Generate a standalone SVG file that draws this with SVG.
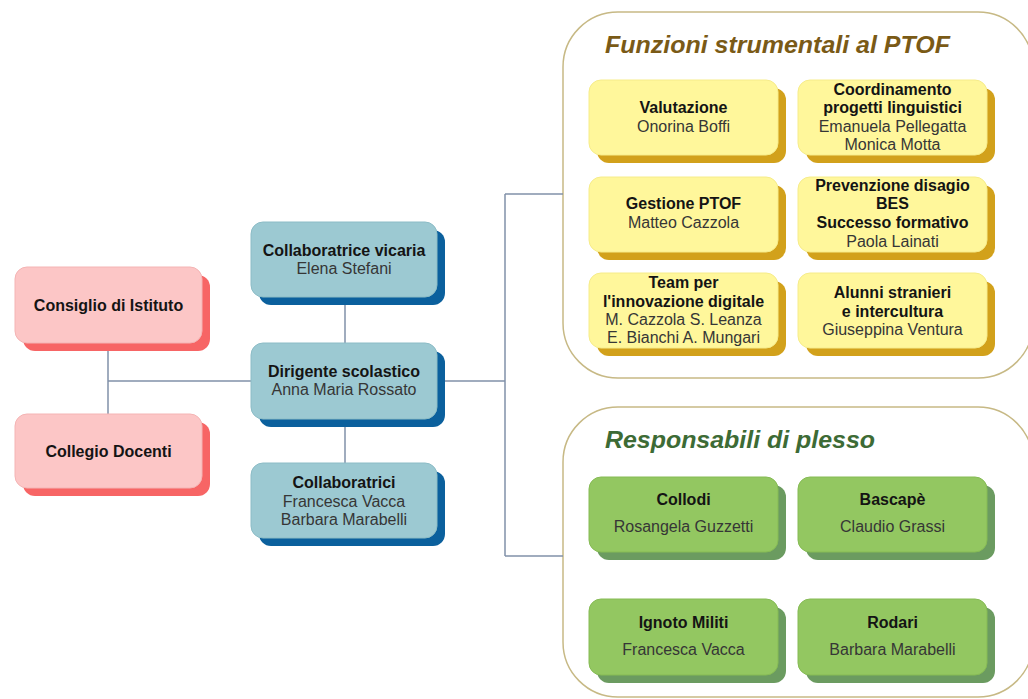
<svg xmlns="http://www.w3.org/2000/svg" width="1028" height="699" viewBox="0 0 1028 699">
<style>
.b{font-family:"Liberation Sans",Arial,sans-serif;font-size:16px;font-weight:bold;fill:#141414;text-anchor:middle}
.r{font-family:"Liberation Sans",Arial,sans-serif;font-size:16px;fill:#363636;text-anchor:middle}
.t{font-family:"Liberation Sans",Arial,sans-serif;font-size:24px;font-weight:bold;font-style:italic}
.conn{stroke:#8191a9;stroke-width:1.5;fill:none}
.cont{fill:#fff;stroke:#c7b985;stroke-width:1.5}
.pk{fill:#fcc6c6;stroke:#f4b4b4}
.pks{fill:#f76565}
.bl{fill:#9cc9d2;stroke:#8cbcc6}
.bls{fill:#0b609d}
.ye{fill:#fff79b;stroke:#f6ec8a}
.yes{fill:#d2a11b}
.gr{fill:#93c761;stroke:#86bb55}
.grs{fill:#6b9b60}
</style>
<rect width="1028" height="699" fill="#fff"/>
<g id="containers">
<rect id="funzioni-box" class="cont" x="563" y="12" width="470" height="366" rx="55"/>
<rect id="plesso-box" class="cont" x="563" y="407" width="470" height="290" rx="55"/>
<text class="t" x="605" y="53" fill="#7a5a16" textLength="345" lengthAdjust="spacingAndGlyphs">Funzioni strumentali al PTOF</text>
<text class="t" x="605" y="448" fill="#3d6b35" textLength="270" lengthAdjust="spacingAndGlyphs">Responsabili di plesso</text>
</g>
<g id="connectors">
<path class="conn" d="M108 343V414M108 381H251M345 297V343M345 419V463M437 381H505M505 194V556M505 194H563M505 556H563"/>
</g>
<g id="consiglio">
<rect class="pks" x="23" y="275" width="187" height="76" rx="12"/>
<rect class="pk" x="15" y="267" width="187" height="76" rx="12"/>
<text class="b" x="108.5" y="311">Consiglio di Istituto</text>
</g>
<g id="collegio">
<rect class="pks" x="23" y="422" width="187" height="74" rx="12"/>
<rect class="pk" x="15" y="414" width="187" height="74" rx="12"/>
<text class="b" x="108.5" y="457">Collegio Docenti</text>
</g>
<g id="vicaria">
<rect class="bls" x="259" y="230" width="186" height="75" rx="12"/>
<rect class="bl" x="251" y="222" width="186" height="75" rx="12"/>
<text class="b" x="344" y="256">Collaboratrice vicaria</text>
<text class="r" x="344" y="274">Elena Stefani</text>
</g>
<g id="dirigente">
<rect class="bls" x="259" y="351" width="186" height="76" rx="12"/>
<rect class="bl" x="251" y="343" width="186" height="76" rx="12"/>
<text class="b" x="344" y="377">Dirigente scolastico</text>
<text class="r" x="344" y="395">Anna Maria Rossato</text>
</g>
<g id="collaboratrici">
<rect class="bls" x="259" y="471" width="186" height="75" rx="12"/>
<rect class="bl" x="251" y="463" width="186" height="75" rx="12"/>
<text class="b" x="344" y="488">Collaboratrici</text>
<text class="r" x="344" y="507">Francesca Vacca</text>
<text class="r" x="344" y="525">Barbara Marabelli</text>
</g>
<g id="valutazione">
<rect class="yes" x="597" y="88" width="189" height="75" rx="12"/>
<rect class="ye" x="589" y="80" width="189" height="75" rx="12"/>
<text class="b" x="683.5" y="113">Valutazione</text>
<text class="r" x="683.5" y="132">Onorina Boffi</text>
</g>
<g id="coordinamento">
<rect class="yes" x="806" y="88" width="189" height="75" rx="12"/>
<rect class="ye" x="798" y="80" width="189" height="75" rx="12"/>
<text class="b" x="892.5" y="95">Coordinamento</text>
<text class="b" x="892.5" y="113">progetti linguistici</text>
<text class="r" x="892.5" y="132">Emanuela Pellegatta</text>
<text class="r" x="892.5" y="150">Monica Motta</text>
</g>
<g id="gestione">
<rect class="yes" x="597" y="185" width="189" height="75" rx="12"/>
<rect class="ye" x="589" y="177" width="189" height="75" rx="12"/>
<text class="b" x="683.5" y="209">Gestione PTOF</text>
<text class="r" x="683.5" y="228">Matteo Cazzola</text>
</g>
<g id="prevenzione">
<rect class="yes" x="806" y="185" width="189" height="75" rx="12"/>
<rect class="ye" x="798" y="177" width="189" height="75" rx="12"/>
<text class="b" x="892.5" y="191">Prevenzione disagio</text>
<text class="b" x="892.5" y="209">BES</text>
<text class="b" x="892.5" y="228">Successo formativo</text>
<text class="r" x="892.5" y="247">Paola Lainati</text>
</g>
<g id="team">
<rect class="yes" x="597" y="281" width="189" height="75" rx="12"/>
<rect class="ye" x="589" y="273" width="189" height="75" rx="12"/>
<text class="b" x="683.5" y="288">Team per</text>
<text class="b" x="683.5" y="307">l'innovazione digitale</text>
<text class="r" x="683.5" y="325">M. Cazzola S. Leanza</text>
<text class="r" x="683.5" y="343">E. Bianchi A. Mungari</text>
</g>
<g id="alunni">
<rect class="yes" x="806" y="281" width="189" height="75" rx="12"/>
<rect class="ye" x="798" y="273" width="189" height="75" rx="12"/>
<text class="b" x="892.5" y="298">Alunni stranieri</text>
<text class="b" x="892.5" y="317">e intercultura</text>
<text class="r" x="892.5" y="335">Giuseppina Ventura</text>
</g>
<g id="collodi">
<rect class="grs" x="597" y="485" width="189" height="75" rx="12"/>
<rect class="gr" x="589" y="477" width="189" height="75" rx="12"/>
<text class="b" x="683.5" y="505">Collodi</text>
<text class="r" x="683.5" y="532">Rosangela Guzzetti</text>
</g>
<g id="bascape">
<rect class="grs" x="806" y="485" width="189" height="75" rx="12"/>
<rect class="gr" x="798" y="477" width="189" height="75" rx="12"/>
<text class="b" x="892.5" y="505">Bascapè</text>
<text class="r" x="892.5" y="532">Claudio Grassi</text>
</g>
<g id="ignoto">
<rect class="grs" x="597" y="607" width="189" height="76" rx="12"/>
<rect class="gr" x="589" y="599" width="189" height="76" rx="12"/>
<text class="b" x="683.5" y="628">Ignoto Militi</text>
<text class="r" x="683.5" y="655">Francesca Vacca</text>
</g>
<g id="rodari">
<rect class="grs" x="806" y="607" width="189" height="76" rx="12"/>
<rect class="gr" x="798" y="599" width="189" height="76" rx="12"/>
<text class="b" x="892.5" y="628">Rodari</text>
<text class="r" x="892.5" y="655">Barbara Marabelli</text>
</g>
</svg>
